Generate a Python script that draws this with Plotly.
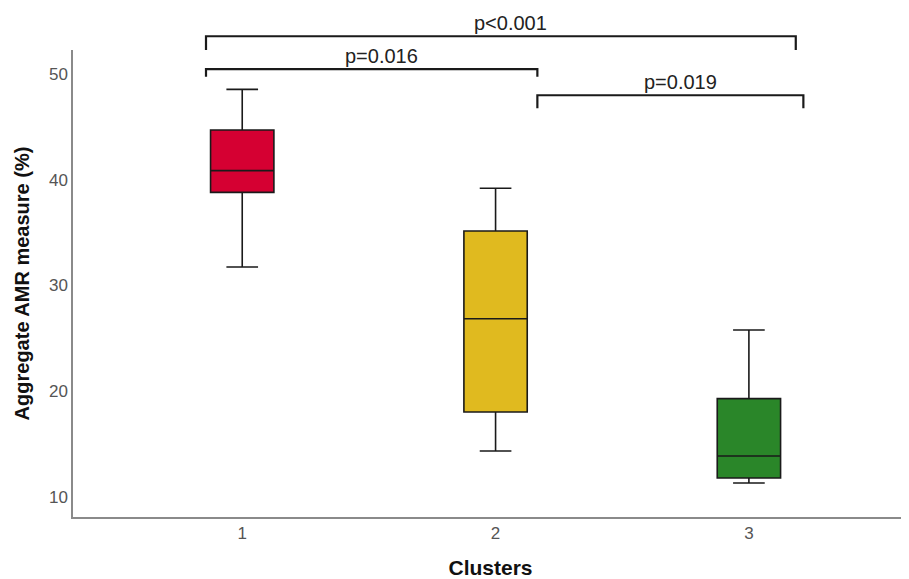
import plotly.graph_objects as go

clusters = [1, 2, 3]
tick_labels = ["1", "2", "3"]
upper_fence = [48.55, 39.19, 25.79]
q3 = [44.70, 35.15, 19.30]
median = [40.86, 26.86, 13.88]
q1 = [38.81, 18.04, 11.80]
lower_fence = [31.75, 14.35, 11.32]
colors = ["#D50032", "#E0BA1F", "#2A8629"]

# significance brackets: (from cluster pos, to cluster pos, top value, tick-bottom value, label)
bracket_x0 = [0.857, 0.857, 2.165]
bracket_x1 = [3.185, 2.165, 3.215]
bracket_top = [53.57, 50.47, 47.99]
bracket_bottom = [52.27, 49.74, 46.76]
bracket_labels = ["p<0.001", "p=0.016", "p=0.019"]
label_x = [2.057, 1.55, 2.73]

x_range = [0.332, 3.628]
y_range = [8.11, 52.27]

FONT = "Liberation Sans, Arial, sans-serif"

fig = go.Figure()
for i, c in enumerate(clusters):
    fig.add_trace(go.Box(
        x=[c], q1=[q1[i]], median=[median[i]], q3=[q3[i]],
        lowerfence=[lower_fence[i]], upperfence=[upper_fence[i]],
        width=0.25, whiskerwidth=0.5,
        fillcolor=colors[i], line=dict(color="#1a1a1a", width=1.6),
        boxpoints=False, hoverinfo="skip", showlegend=False,
    ))


def px_(v):
    return (v - x_range[0]) / (x_range[1] - x_range[0])


def py_(v):
    return (v - y_range[0]) / (y_range[1] - y_range[0])


shapes = []
annotations = []
for i in range(len(bracket_labels)):
    xa, xb = px_(bracket_x0[i]), px_(bracket_x1[i])
    yt, yb = py_(bracket_top[i]), py_(bracket_bottom[i])
    shapes.append(dict(
        type="path", xref="paper", yref="paper",
        path=f"M {xa},{yb} L {xa},{yt} L {xb},{yt} L {xb},{yb}",
        line=dict(color="#1a1a1a", width=2.2),
    ))
    annotations.append(dict(
        x=px_(label_x[i]), y=yt, xref="paper", yref="paper",
        text=bracket_labels[i], showarrow=False,
        xanchor="center", yanchor="bottom", yshift=0,
        font=dict(family=FONT, size=20, color="#222222"),
    ))

# page body has an 8px margin, so the figure is sized/offset to compensate
fig.update_layout(
    width=901, height=571,
    margin=dict(l=65, r=1, t=42, b=62),
    paper_bgcolor="white", plot_bgcolor="white",
    shapes=shapes, annotations=annotations,
    font=dict(family=FONT),
)
fig.update_xaxes(
    range=x_range, tickmode="array", tickvals=clusters, ticktext=tick_labels,
    showgrid=False, zeroline=False, showline=True, linecolor="#8a8a8a", linewidth=1.5,
    ticks="", tickfont=dict(size=17, color="#555555"), automargin=False,
    title=dict(text="<b>Clusters</b>", font=dict(size=21, color="#111111"), standoff=18),
)
fig.update_yaxes(
    range=y_range, tickmode="array", tickvals=[10, 20, 30, 40, 50],
    showgrid=False, zeroline=False, showline=True, linecolor="#8a8a8a", linewidth=1.5,
    ticks="", tickfont=dict(size=17, color="#555555"), automargin=False,
    title=dict(text="<b>Aggregate AMR measure (%)</b>", font=dict(size=20, color="#111111"), standoff=14),
)

fig.write_html("out.html")
